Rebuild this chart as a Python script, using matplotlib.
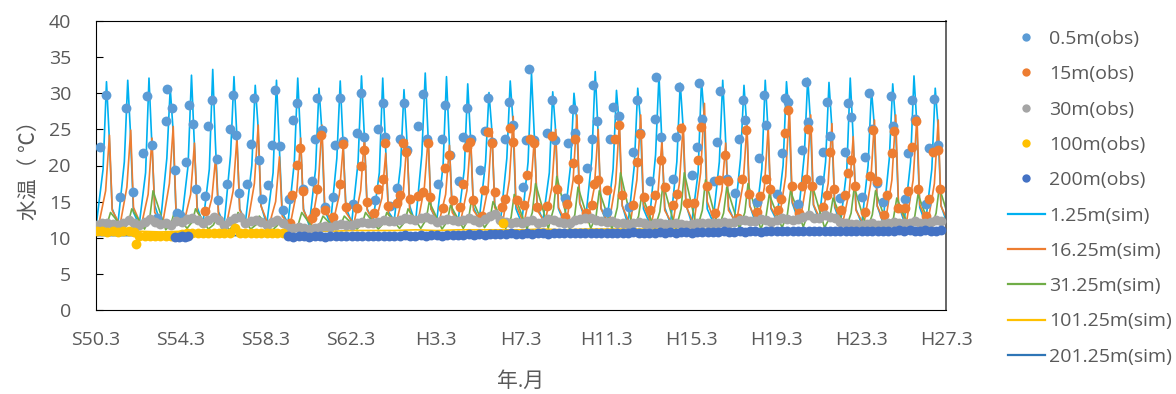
import numpy as np
import matplotlib.pyplot as plt
from matplotlib.lines import Line2D

plt.rcParams['font.family'] = ['Open Sans', 'Noto Sans CJK JP', 'DejaVu Sans']

# ---- simulated water temperature, one cycle per year (decimal years) ----
years = np.arange(1975, 2015)

# 1.25m: winter low (41 values, last one is winter 2015), spring, peak, autumn, early winter
sim1_low = [12.3, 12.0, 11.8, 12.1, 12.4, 12.0, 11.9, 12.2, 11.8, 12.0, 11.7, 11.9, 12.1, 12.2,
            12.4, 12.0, 12.3, 12.1, 12.5, 12.2, 12.0, 12.4, 12.1, 12.3, 12.0, 11.8, 12.1, 11.9,
            12.0, 12.2, 12.3, 12.1, 12.4, 12.6, 12.5, 12.0, 11.9, 12.1, 12.2, 12.0, 12.1]
sim1_spring = [19.5, 20.5, 19.0, 21.0, 20.0, 19.5, 21.5, 20.0, 19.0, 20.5, 19.5, 21.0, 20.5, 19.0,
               20.0, 21.5, 20.0, 19.5, 20.5, 21.0, 20.5, 19.0, 20.0, 21.0, 19.5, 20.0, 21.5, 20.5,
               19.0, 20.5, 21.0, 19.5, 20.0, 21.5, 20.5, 19.5, 20.0, 21.0, 20.5, 19.5]
sim1_peak = [31.6, 31.8, 32.1, 30.7, 32.5, 33.3, 32.3, 31.1, 31.8, 32.1, 30.7, 31.7, 32.4, 32.1,
             30.5, 32.8, 32.3, 31.3, 30.1, 31.7, 32.8, 30.2, 30.0, 33.0, 30.4, 30.7, 32.5, 31.4,
             31.8, 31.8, 31.1, 31.8, 31.6, 32.1, 31.5, 32.1, 30.5, 31.3, 32.4, 30.7]
sim1_autumn = [24.5, 25.0, 24.0, 25.5, 24.0, 23.5, 25.0, 26.0, 23.5, 24.5, 25.5, 24.0, 25.0, 23.5,
               24.5, 25.0, 24.0, 24.5, 25.5, 26.5, 25.0, 25.5, 26.5, 25.5, 26.0, 26.5, 24.5, 26.0,
               27.0, 24.5, 26.0, 25.5, 27.0, 26.5, 26.0, 25.0, 26.0, 26.5, 26.5, 26.0]
sim1_late = [14.0, 13.5, 14.5, 13.8, 14.2, 13.6, 14.0, 14.5, 13.5, 14.0, 13.8, 14.2, 14.0, 13.6,
             14.4, 14.0, 13.8, 14.2, 14.6, 14.0, 14.4, 14.0, 14.8, 14.2, 14.5, 14.0, 14.2, 14.6,
             14.0, 14.3, 14.5, 14.0, 14.8, 14.5, 14.2, 14.0, 14.4, 14.6, 14.2, 14.5]

# 16.25m: winter low (41), early summer, peak, early winter
sim16_low = [11.9, 11.8, 11.7, 11.9, 12.0, 11.8, 11.7, 11.9, 11.6, 11.7, 11.6, 11.8, 11.9, 12.0,
             12.1, 11.9, 12.0, 11.9, 12.2, 12.0, 11.9, 12.1, 12.0, 12.1, 11.9, 11.8, 11.9, 11.8,
             11.9, 12.0, 12.1, 12.0, 12.2, 12.3, 12.2, 11.9, 11.8, 11.9, 12.0, 11.9, 12.0]
sim16_mid = [16.5, 17.0, 16.0, 17.5, 16.0, 15.5, 16.5, 17.5, 15.0, 16.5, 17.0, 16.0, 16.5, 15.5,
             16.0, 17.0, 16.0, 16.5, 17.0, 18.0, 16.5, 17.0, 18.0, 17.0, 17.5, 18.0, 16.5, 17.5,
             19.0, 16.5, 17.5, 17.0, 18.5, 18.0, 17.5, 16.5, 17.5, 18.0, 18.0, 17.5]
sim16_peak = [24.2, 24.9, 23.8, 25.4, 23.1, 21.2, 23.9, 25.6, 21.2, 23.8, 25.6, 22.8, 24.0, 21.7,
              23.5, 24.0, 22.8, 24.0, 25.1, 26.8, 24.0, 25.0, 27.0, 25.0, 26.1, 27.0, 23.5, 25.8,
              28.6, 23.1, 25.6, 25.4, 28.1, 27.0, 25.8, 24.0, 26.3, 27.0, 26.8, 26.3]
sim16_late = [13.8, 14.2, 13.5, 14.0, 13.6, 13.2, 13.8, 14.4, 13.0, 13.8, 14.2, 13.5, 13.8, 13.2,
              13.6, 14.0, 13.5, 13.8, 14.2, 14.6, 13.8, 14.2, 14.8, 14.0, 14.4, 14.6, 13.8, 14.4,
              15.0, 13.8, 14.4, 14.2, 15.0, 14.6, 14.4, 13.8, 14.4, 14.6, 14.6, 14.4]

# 31.25m: low (41), late summer, autumn peak
sim31_low = [11.2, 11.3, 11.2, 11.1, 11.3, 11.2, 11.1, 11.2, 11.0, 11.1, 11.0, 11.1, 11.2, 11.2,
             11.3, 11.3, 11.2, 11.3, 11.4, 11.3, 11.2, 11.3, 11.2, 11.3, 11.2, 11.1, 11.2, 11.1,
             11.2, 11.3, 11.3, 11.2, 11.4, 11.5, 11.4, 11.2, 11.1, 11.2, 11.3, 11.2, 11.2]
sim31_mid = [12.0, 12.2, 12.8, 12.0, 12.2, 11.8, 12.0, 11.8, 11.7, 12.0, 11.9, 11.9, 12.0, 12.0,
             12.2, 12.5, 12.3, 12.6, 12.5, 12.8, 13.5, 14.0, 13.2, 13.0, 14.2, 13.0, 13.6, 14.0,
             13.8, 13.4, 13.5, 13.0, 13.2, 13.6, 12.8, 13.4, 13.2, 12.8, 13.0, 13.4]
sim31_peak = [13.5, 14.0, 16.5, 13.5, 14.0, 13.0, 13.5, 13.0, 12.5, 13.5, 13.0, 13.0, 13.5, 13.5,
              14.0, 15.0, 14.5, 15.5, 15.0, 16.0, 17.5, 18.5, 17.0, 16.5, 19.0, 16.0, 17.5, 19.0,
              18.0, 17.0, 17.5, 16.0, 16.5, 17.5, 15.5, 17.0, 16.5, 15.5, 16.0, 17.0]

# 101.25m and 201.25m: one value per year (41)
sim101 = [11.0, 11.0, 10.9, 10.8, 10.9, 10.9, 11.0, 10.9, 10.9, 11.0, 10.9, 10.9, 11.0, 11.0,
          11.0, 11.1, 11.0, 11.1, 11.1, 11.1, 11.1, 11.2, 11.1, 11.2, 11.2, 11.2, 11.2, 11.2,
          11.1, 11.2, 11.2, 11.2, 11.3, 11.2, 11.3, 11.2, 11.2, 11.3, 11.2, 11.3, 11.3]
sim201 = [10.3, 10.3, 10.3, 10.2, 10.3, 10.3, 10.3, 10.3, 10.2, 10.3, 10.3, 10.3, 10.4, 10.4,
          10.4, 10.4, 10.5, 10.5, 10.5, 10.5, 10.6, 10.6, 10.6, 10.6, 10.7, 10.7, 10.7, 10.7,
          10.7, 10.8, 10.8, 10.8, 10.8, 10.8, 10.9, 10.9, 10.9, 10.9, 10.9, 10.9, 10.9]

# ---- observations ----
obs05_t = [1975.36, 1975.64, 1976.30, 1976.58, 1976.91, 1977.38, 1977.57, 1977.81, 1978.04, 1978.46,
           1978.51, 1978.75, 1978.89, 1978.98, 1979.12, 1979.41, 1979.55, 1979.73, 1979.88, 1980.30,
           1980.44, 1980.63, 1980.86, 1980.91, 1981.33, 1981.48, 1981.62, 1981.76, 1981.90, 1982.28,
           1982.46, 1982.61, 1982.84, 1982.98, 1983.26, 1983.45, 1983.59, 1983.83, 1983.97, 1984.25,
           1984.44, 1984.63, 1984.91, 1985.34, 1985.48, 1985.57, 1985.81, 1985.95, 1986.32, 1986.42,
           1986.65, 1986.79, 1987.26, 1987.45, 1987.64, 1987.78, 1988.30, 1988.44, 1988.68, 1988.77,
           1989.01, 1989.33, 1989.48, 1989.66, 1989.81, 1990.32, 1990.56, 1990.75, 1991.26, 1991.45,
           1991.59, 1991.83, 1992.25, 1992.44, 1992.63, 1992.82, 1993.24, 1993.48, 1993.62, 1993.81,
           1994.42, 1994.61, 1994.79, 1995.26, 1995.40, 1995.55, 1995.78, 1996.39, 1996.63, 1996.77,
           1997.24, 1997.38, 1997.62, 1997.71, 1998.28, 1998.51, 1998.56, 1998.75, 1999.22, 1999.36,
           1999.50, 1999.78, 2000.25, 2000.44, 2000.63, 2000.77, 2001.24, 2001.48, 2001.52, 2001.76,
           2002.32, 2002.46, 2002.61, 2003.22, 2003.45, 2003.55, 2003.69, 2004.25, 2004.39, 2004.53,
           2004.86, 2005.24, 2005.43, 2005.62, 2005.71, 2006.28, 2006.37, 2006.61, 2006.70, 2007.22,
           2007.46, 2007.60, 2007.74, 2008.21, 2008.40, 2008.58, 2008.68, 2009.24, 2009.38, 2009.57,
           2009.71, 2010.18, 2010.42, 2010.56, 2010.70, 2011.22, 2011.36, 2011.55, 2011.69, 2011.92,
           2012.21, 2012.58, 2012.68, 2013.24, 2013.38, 2013.57, 2013.71, 2014.23, 2014.37, 2014.61,
           2014.79]
obs05_v = [22.6, 29.7, 15.7, 27.9, 16.4, 21.7, 29.6, 22.9, 12.7, 26.1,
           30.6, 28.0, 19.4, 13.4, 13.1, 20.5, 28.4, 25.8, 16.8, 15.8,
           25.5, 29.0, 20.9, 15.2, 17.4, 25.1, 29.7, 24.2, 16.2, 17.5,
           23.0, 29.4, 20.8, 15.3, 17.3, 22.9, 30.5, 22.7, 13.8, 15.3,
           26.3, 28.7, 16.7, 17.8, 23.7, 29.3, 24.9, 14.3, 15.7, 22.9,
           29.3, 23.4, 14.7, 24.5, 30.1, 24.0, 15.2, 25.1, 28.6, 24.0,
           14.4, 16.9, 23.7, 28.7, 22.2, 25.4, 29.9, 23.6, 17.5, 23.7,
           28.4, 21.5, 17.8, 24.0, 28.0, 23.7, 19.4, 24.8, 29.3, 23.3,
           23.6, 28.8, 25.6, 17.0, 23.5, 33.3, 23.5, 24.5, 29.1, 23.5,
           15.5, 23.1, 27.8, 24.5, 19.6, 23.7, 31.1, 26.1, 13.5, 23.6,
           28.1, 26.8, 14.3, 21.9, 29.0, 24.5, 17.8, 26.4, 32.2, 24.0,
           18.2, 24.0, 30.8, 18.7, 22.5, 31.4, 26.5, 17.8, 23.3, 30.3,
           18.1, 16.2, 23.6, 29.0, 26.3, 15.0, 21.1, 29.8, 25.6, 16.1,
           21.7, 29.3, 28.8, 14.7, 22.2, 31.5, 26.0, 18.0, 21.9, 28.8,
           24.1, 15.5, 21.8, 28.7, 26.7, 15.7, 21.2, 30.1, 25.1, 17.6,
           15.0, 29.6, 25.5, 15.3, 21.7, 29.0, 26.5, 14.7, 22.4, 29.2,
           22.9]

obs15_t = [1980.30, 1984.30, 1984.39, 1984.63, 1984.77, 1984.91, 1985.34, 1985.48, 1985.57, 1985.76,
           1985.95, 1986.32, 1986.65, 1986.79, 1986.93, 1987.45, 1987.64, 1987.78, 1987.92, 1988.25,
           1988.44, 1988.68, 1988.77, 1988.91, 1989.33, 1989.48, 1989.62, 1989.76, 1989.95, 1990.32,
           1990.56, 1990.79, 1990.89, 1991.50, 1991.59, 1991.78, 1991.97, 1992.30, 1992.44, 1992.63,
           1992.77, 1992.91, 1993.34, 1993.43, 1993.62, 1993.81, 1993.95, 1994.28, 1994.42, 1994.65,
           1994.79, 1994.98, 1995.31, 1995.45, 1995.59, 1995.78, 1995.92, 1996.39, 1996.63, 1996.86,
           1997.24, 1997.33, 1997.62, 1997.71, 1997.85, 1998.23, 1998.51, 1998.60, 1998.79, 1999.22,
           1999.59, 1999.78, 1999.92, 2000.44, 2000.63, 2000.77, 2000.96, 2001.24, 2001.48, 2001.76,
           2001.95, 2002.32, 2002.51, 2002.70, 2002.98, 2003.31, 2003.50, 2003.64, 2003.92, 2004.30,
           2004.49, 2004.77, 2004.91, 2005.38, 2005.57, 2005.76, 2005.90, 2006.28, 2006.42, 2006.70,
           2006.89, 2007.26, 2007.41, 2007.60, 2007.74, 2007.92, 2008.25, 2008.40, 2008.58, 2008.68,
           2008.87, 2009.38, 2009.57, 2009.71, 2009.90, 2010.23, 2010.42, 2010.56, 2010.70, 2010.89,
           2011.36, 2011.59, 2011.74, 2011.92, 2012.25, 2012.39, 2012.63, 2012.72, 2012.91, 2013.24,
           2013.38, 2013.57, 2013.76, 2013.85, 2014.23, 2014.37, 2014.56, 2014.79, 2014.89]
obs15_v = [13.7, 12.0, 15.9, 20.1, 22.4, 16.5, 12.7, 13.6, 16.8, 24.2,
           13.8, 12.9, 17.5, 23.0, 14.3, 14.1, 19.9, 22.2, 15.0, 13.4,
           16.8, 18.1, 23.1, 14.4, 14.8, 15.9, 23.1, 21.9, 15.4, 15.8,
           16.4, 23.1, 15.7, 14.1, 19.6, 21.5, 15.2, 14.3, 17.5, 22.6,
           23.3, 15.2, 13.0, 16.6, 24.7, 23.1, 16.4, 14.3, 15.4, 25.2,
           23.3, 15.2, 14.5, 18.7, 23.6, 23.1, 14.3, 14.4, 24.1, 16.8,
           12.9, 14.7, 20.3, 23.7, 18.2, 13.4, 14.5, 17.5, 18.0, 16.6,
           23.7, 25.6, 15.9, 14.5, 20.5, 24.3, 15.7, 13.8, 15.9, 20.7,
           17.0, 14.5, 16.1, 25.2, 14.8, 14.8, 20.7, 25.3, 17.1, 13.4,
           18.0, 21.4, 17.8, 12.7, 18.2, 24.9, 16.1, 13.5, 15.8, 18.2,
           16.8, 13.9, 15.3, 24.5, 27.7, 17.1, 13.4, 17.1, 18.2, 25.0,
           17.1, 14.3, 15.9, 21.9, 16.8, 13.9, 15.9, 18.9, 20.7, 17.1,
           13.6, 18.5, 24.9, 17.8, 13.1, 15.9, 21.7, 24.8, 14.1, 14.1,
           16.5, 22.6, 26.1, 16.8, 13.0, 15.3, 21.8, 22.2, 16.8]

# 30m, four readings a year (1975-2014)
obs30_v = [[11.8, 12.0, 12.1, 11.9], [11.7, 12.1, 12.4, 12.0], [11.8, 12.2, 12.6, 12.2],
           [11.9, 12.0, 11.8, 12.3], [12.2, 12.6, 12.8, 12.4], [12.0, 12.5, 12.9, 12.4],
           [11.8, 12.3, 12.8, 12.9], [12.0, 12.3, 12.5, 12.2], [11.8, 12.2, 12.4, 12.0],
           [11.3, 11.4, 11.5, 11.4], [11.2, 11.4, 11.5, 11.6], [11.5, 11.7, 11.9, 11.8],
           [11.8, 12.0, 12.2, 12.1], [12.0, 12.2, 12.4, 12.3], [12.3, 12.5, 12.7, 12.6],
           [12.4, 12.7, 12.9, 12.6], [12.2, 12.4, 12.6, 12.5], [12.3, 12.5, 12.8, 12.4],
           [12.2, 12.6, 13.0, 13.3], [12.5, 12.2, 12.0, 12.2], [12.0, 12.3, 12.5, 12.1],
           [12.2, 12.6, 12.4, 12.2], [12.0, 12.1, 12.4, 12.6], [12.7, 12.8, 12.5, 12.3],
           [12.2, 12.3, 12.1, 12.0], [11.9, 12.1, 12.2, 12.0], [11.8, 12.0, 12.1, 11.9],
           [11.9, 12.0, 11.9, 11.8], [11.9, 12.0, 12.1, 12.0], [12.0, 12.1, 12.2, 12.1],
           [12.2, 12.4, 12.5, 12.3], [12.3, 12.6, 12.4, 12.2], [12.4, 12.8, 12.6, 12.5],
           [12.6, 12.9, 13.2, 12.8], [12.8, 13.1, 12.9, 12.7], [12.2, 12.0, 11.9, 11.9],
           [11.8, 11.9, 12.0, 11.8], [11.9, 12.0, 12.2, 12.0], [12.0, 12.1, 12.3, 12.1],
           [12.0, 12.2, 12.4, 12.3]]

# 100m, four readings a year (1975-1983), plus single readings
obs100_v = [[10.9, 11.0, 10.8, 10.9], [10.8, 11.0, 10.9, 10.8], [10.3, 10.2, 10.3, 10.2],
            [10.2, 10.3, 10.2, 10.3], [10.5, 10.6, 10.6, 10.7], [10.6, 10.6, 10.7, 10.6],
            [10.6, 10.7, 11.3, 10.7], [10.7, 10.6, 10.7, 10.6], [10.7, 10.6, 10.7, 10.6]]
obs100_extra_t = [1977.05, 1994.30]
obs100_extra_v = [9.1, 12.0]

# 200m, four readings a year (1984-2014), plus a short early run
obs200_v = [[10.2, 10.1, 10.2, 10.2], [10.1, 10.2, 10.2, 10.1], [10.2, 10.2, 10.3, 10.2],
            [10.2, 10.3, 10.2, 10.3], [10.3, 10.2, 10.3, 10.3], [10.3, 10.3, 10.4, 10.3],
            [10.3, 10.4, 10.3, 10.4], [10.4, 10.3, 10.4, 10.4], [10.4, 10.4, 10.5, 10.4],
            [10.5, 10.4, 10.5, 10.5], [10.5, 10.5, 10.6, 10.5], [10.5, 10.6, 10.5, 10.6],
            [10.6, 10.5, 10.6, 10.6], [10.6, 10.6, 10.7, 10.6], [10.7, 10.6, 10.7, 10.7],
            [10.7, 10.7, 10.6, 10.7], [10.7, 10.8, 10.7, 10.7], [10.7, 10.7, 10.8, 10.7],
            [10.8, 10.7, 10.8, 10.8], [10.6, 10.8, 10.8, 10.8], [10.8, 10.8, 10.9, 10.8],
            [10.8, 10.9, 10.8, 10.9], [10.9, 10.8, 10.9, 10.9], [10.9, 10.9, 11.0, 10.9],
            [10.9, 11.0, 10.9, 11.0], [11.0, 10.9, 11.0, 11.0], [10.9, 11.0, 11.0, 10.9],
            [11.0, 11.0, 10.9, 11.0], [11.0, 10.9, 11.0, 11.1], [11.0, 11.1, 11.0, 11.0],
            [11.1, 11.0, 11.0, 11.1]]
obs200_early_t = [1978.90, 1979.05, 1979.20, 1979.35, 1979.50]
obs200_early_v = [10.1, 10.1, 10.2, 10.1, 10.2]

tick_labels = ['S50.3', 'S54.3', 'S58.3', 'S62.3', 'H3.3', 'H7.3',
               'H11.3', 'H15.3', 'H19.3', 'H23.3', 'H27.3']

quarters = [0.2, 0.45, 0.7, 0.95]


def cycle(parts, last_low):
    """Stitch per-year (offset, values) pairs into one time series."""
    t, v = [], []
    for i, yr in enumerate(years):
        for off, vals in parts:
            t.append(yr + off)
            v.append(vals[i])
    t.append(years[-1] + 1 + parts[0][0])
    v.append(last_low)
    return np.array(t), np.array(v)


def quarterly(first_year, rows):
    t = [first_year + i + q for i in range(len(rows)) for q in quarters]
    v = [x for row in rows for x in row]
    return t, v


t1, v1 = cycle([(0.2, sim1_low), (0.5, sim1_spring), (0.66, sim1_peak),
                (0.78, sim1_autumn), (0.93, sim1_late)], sim1_low[-1])
t16, v16 = cycle([(0.3, sim16_low), (0.62, sim16_mid), (0.8, sim16_peak),
                  (0.93, sim16_late)], sim16_low[-1])
t31, v31 = cycle([(0.45, sim31_low), (0.7, sim31_mid), (0.85, sim31_peak)], sim31_low[-1])
t_yr = np.append(years + 0.2, 2015.2)

t30, v30 = quarterly(1975, obs30_v)
t100, v100 = quarterly(1975, obs100_v)
t200, v200 = quarterly(1984, obs200_v)
t100 = t100 + obs100_extra_t
v100 = v100 + obs100_extra_v
t200 = obs200_early_t + t200
v200 = obs200_early_v + v200

fig = plt.figure(figsize=(11.76, 3.94), dpi=100)
ax = fig.add_axes([96 / 1176, 1 - 310 / 394, 850 / 1176, 289 / 394])

lw = 1.2
ax.plot(t1, v1, color='#00B0F0', lw=lw, zorder=2)
ax.plot(t16, v16, color='#ED7D31', lw=lw, zorder=2)
ax.plot(t31, v31, color='#70AD47', lw=lw, zorder=2)
ax.plot(t_yr, sim101, color='#FFC000', lw=lw, zorder=2)
ax.plot(t_yr, sim201, color='#2E75B6', lw=lw, zorder=2)

ms = 50
ax.scatter(obs05_t, obs05_v, s=ms, color='#5B9BD5', lw=0, zorder=3)
ax.scatter(obs15_t, obs15_v, s=ms, color='#ED7D31', lw=0, zorder=3)
ax.scatter(t30, v30, s=ms, color='#A5A5A5', lw=0, zorder=3)
ax.scatter(t100, v100, s=ms, color='#FFC000', lw=0, zorder=3)
ax.scatter(t200, v200, s=ms, color='#4472C4', lw=0, zorder=3)

x0 = 1975 + 2 / 12
ax.set_xlim(x0, x0 + 40)
ax.set_ylim(0, 40)
ax.set_xticks([x0 + 4 * i for i in range(len(tick_labels))])
ax.set_xticklabels(tick_labels)
ax.set_yticks(range(0, 41, 5))

txt = '#595959'
ax.tick_params(axis='y', direction='in', length=5, pad=18, labelsize=14, labelcolor=txt)
ax.tick_params(axis='x', length=0, pad=15, labelsize=14, labelcolor=txt)
for side in ['left', 'bottom', 'top']:
    ax.spines[side].set_color('black')
ax.spines['right'].set_color('#595959')
ax.spines['right'].set_linewidth(1.3)

ax.set_ylabel('水温（ ℃）', fontsize=15, color=txt, labelpad=6)
ax.set_xlabel('年.月', fontsize=15, color=txt, labelpad=16)

obs_colors = ['#5B9BD5', '#ED7D31', '#A5A5A5', '#FFC000', '#4472C4']
sim_colors = ['#00B0F0', '#ED7D31', '#70AD47', '#FFC000', '#2E75B6']
labels = ['0.5m(obs)', '15m(obs)', '30m(obs)', '100m(obs)', '200m(obs)',
          '1.25m(sim)', '16.25m(sim)', '31.25m(sim)', '101.25m(sim)', '201.25m(sim)']
handles = [Line2D([], [], ls='none', marker='o', ms=6, mec='none', color=c) for c in obs_colors]
handles += [Line2D([], [], lw=1.6, color=c) for c in sim_colors]
fig.legend(handles, labels, loc='upper left', bbox_to_anchor=(1008 / 1176, 1 - 30 / 394),
           frameon=False, fontsize=14, labelcolor=txt, labelspacing=0.89,
           handlelength=1.9, handletextpad=0.2, borderpad=0, borderaxespad=0)

fig.savefig('out.png', dpi=100)
